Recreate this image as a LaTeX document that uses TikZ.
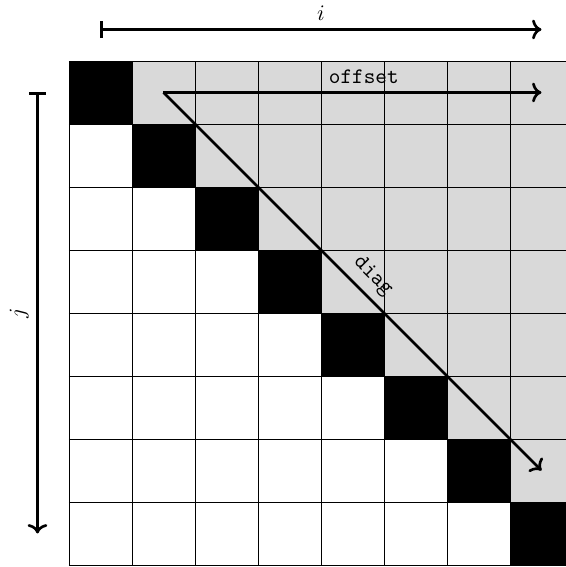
\documentclass[tikz,border=0pt]{standalone}
\usepackage{tikz}
\usetikzlibrary{arrows.meta,positioning}
\begin{document}
\begin{tikzpicture}[
  cell/.style={draw, line width=0.4pt},
  upper/.style={fill=black!15},
  diagcell/.style={fill=black},
  axis/.style={->, very thick},
  lbl/.style={font=\ttfamily}
]
\useasboundingbox (-1.095,0.968) rectangle (7.889,-8.032);

% Matrix cells
\foreach \r in {0,...,7} {
  \foreach \c in {0,...,7} {
    \ifnum\c>\r \fill[upper] (\c,-\r) rectangle ++(1,-1); \fi
  }
  \fill[diagcell] (\r,-\r) rectangle ++(1,-1);
}
\draw[cell] (0,-8) grid (8,0);

% Index axes
\coordinate (istart) at (0.5,0.5);
\coordinate (iend) at (7.5,0.5);
\coordinate (jstart) at (-0.5,-0.5);
\coordinate (jend) at (-0.5,-7.5);

\draw[axis, |->] (istart) -- node[above] {$i$} (iend);
\draw[axis, |->] (jstart) -- node[rotate=90, anchor=south] {$j$} (jend);

% Offset and diagonal
\coordinate (start) at (1.5,-0.5);
\coordinate (offend) at (7.5,-0.5);
\coordinate (diagend) at (7.5,-6.5);

\draw[axis] (start) -- node[lbl, pos=0.53, above] {offset} (offend);
\draw[axis] (start) -- node[lbl, pos=0.52, above, sloped] {diag} (diagend);

\end{tikzpicture}
\end{document}
